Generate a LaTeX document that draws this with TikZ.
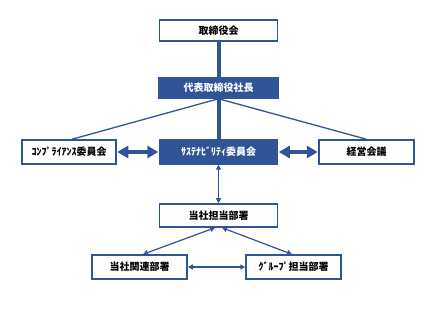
\documentclass[tikz,border=0pt]{standalone}
\usepackage{fontspec}
\newfontfamily\jp{Noto Sans CJK JP}
\usetikzlibrary{arrows.meta}
\definecolor{nblue}{HTML}{2F5597}
\begin{document}
\begin{tikzpicture}[x=1pt,y=-1pt,
  wbox/.style={draw=nblue,line width=1.5pt,fill=white,inner sep=0pt,
    font=\jp\bfseries\fontsize{10}{12}\selectfont,text=black},
  fbox/.style={wbox,fill=nblue,text=white},
  thickline/.style={draw=nblue,line width=4pt},
  thinline/.style={draw=nblue,line width=1.3pt},
  bigarrow/.style={draw=nblue,line width=3.5pt,
    {Triangle[length=11pt,width=12pt]}-{Triangle[length=11pt,width=12pt]},shorten <=0.5pt,shorten >=0.5pt},
  smallarrow/.style={draw=nblue,line width=1.2pt,
    {Triangle[length=5pt,width=5pt]}-{Triangle[length=5pt,width=5pt]}}]
\useasboundingbox (0,0) rectangle (439,323);
\node[wbox,minimum width=118pt,minimum height=21pt] (board) at (218.5,30.5) {取締役会};
\node[fbox,minimum width=119pt,minimum height=20pt] (pres) at (218.5,88) {代表取締役社長};
\node[wbox,minimum width=94pt,minimum height=24pt] (comp) at (69,152) {ｺﾝﾌﾟﾗｲｱﾝｽ委員会};
\node[fbox,minimum width=118pt,minimum height=24pt] (sus) at (218.5,152) {ｻｽﾃﾅﾋﾞﾘﾃｨ委員会};
\node[wbox,minimum width=95pt,minimum height=24pt] (mgmt) at (366.5,152) {経営会議};
\node[wbox,minimum width=118pt,minimum height=23pt] (dept) at (218.5,215.5) {当社担当部署};
\node[wbox,minimum width=95pt,minimum height=24pt] (rel) at (139.5,267) {当社関連部署};
\node[wbox,minimum width=95pt,minimum height=24pt] (grp) at (293.5,267) {ｸﾞﾙｰﾌﾟ担当部署};

\draw[thickline] (board.south) -- (pres.north);
\draw[thickline] (pres.south) -- (sus.north);
\draw[thinline] (pres.south) -- ([xshift=3pt]comp.north);
\draw[thinline] (pres.south) -- (mgmt.north);
\draw[bigarrow] (comp.east) -- (sus.west);
\draw[bigarrow] (sus.east) -- (mgmt.west);
\draw[smallarrow] (sus.south) -- (dept.north);
\draw[smallarrow] ([xshift=-3.5pt]dept.south) -- ([xshift=3.5pt]rel.north);
\draw[smallarrow] ([xshift=3.5pt]dept.south) -- ([xshift=-1.5pt]grp.north);
\draw[smallarrow] (rel.east) -- (grp.west);
\end{tikzpicture}
\end{document}
